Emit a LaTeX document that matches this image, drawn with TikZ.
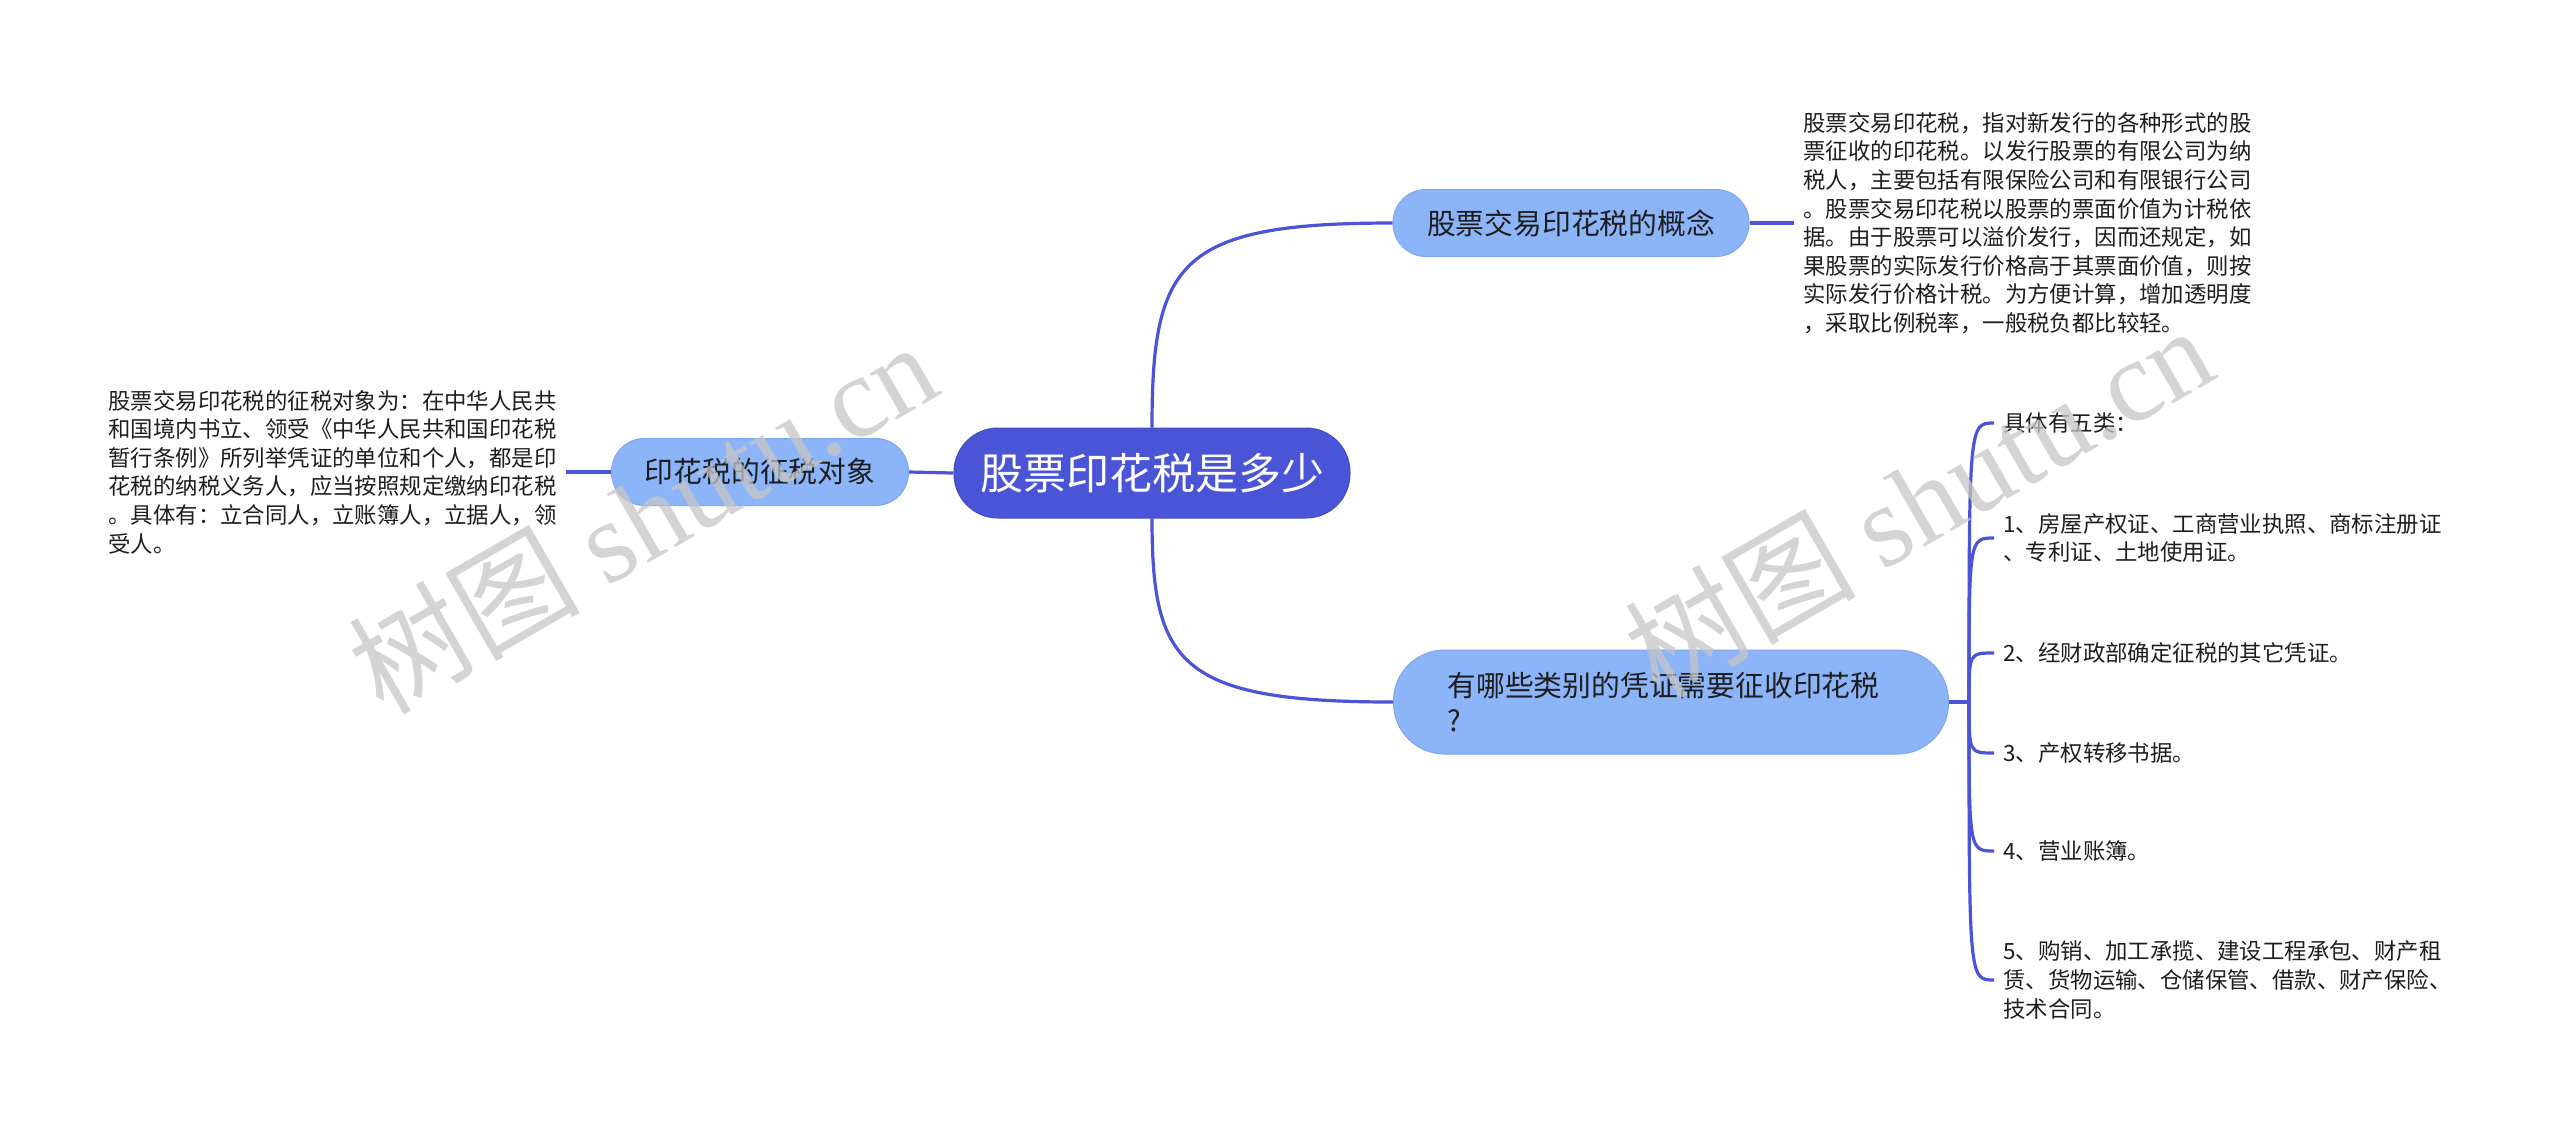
\documentclass[tikz,border=0pt]{standalone}
\usepackage{fontspec}
\setmainfont{Noto Sans CJK SC}
\newfontfamily\wmlat{Liberation Serif}
\definecolor{mainblue}{HTML}{4A54D6}
\definecolor{subblue}{HTML}{8CB4F8}
\definecolor{subedge}{HTML}{7EA6EE}
\definecolor{txt}{HTML}{1E1E1E}
\begin{document}
\begin{tikzpicture}[x=0.5pt,y=-0.5pt,
  conn/.style={draw=mainblue, line width=1.6pt},
  rootbox/.style={fill=mainblue, draw=mainblue!90!black, line width=0.5pt, rounded corners=22pt,
    minimum width=198pt, minimum height=45pt, inner sep=0pt, text=white,
    font=\fontsize{21.5pt}{26pt}\selectfont},
  subbox/.style={fill=subblue, draw=subedge, line width=0.5pt, rounded corners=16.5pt,
    minimum height=33.5pt, inner sep=0pt, text=txt,
    font=\fontsize{14.4pt}{17.5pt}\selectfont},
  leaf/.style={anchor=west, align=left, inner xsep=4.5pt, inner ysep=2pt, text=txt,
    font=\fontsize{11.2pt}{14.3pt}\selectfont},
  wm/.style={text=gray!45, opacity=0.75, rotate=30, inner sep=0pt,
    font=\fontsize{58pt}{60pt}\selectfont}
]
\useasboundingbox[fill=white] (0,0) rectangle (2560,1132);

% central and main nodes
\node[rootbox] (root) at (1152,473) {股票印花税是多少};
\node[subbox, minimum width=148.5pt] (lnode) at (760,472) {印花税的征税对象};
\node[subbox, minimum width=178pt] (tnode) at (1571,223) {股票交易印花税的概念};
\node[subbox, anchor=west, align=left, text width=223.5pt, inner xsep=27pt,
      minimum height=52pt, rounded corners=25.5pt] (bnode) at (1393,702)
      {有哪些类别的凭证需要征收印花税\\?};

% text blocks
\node[leaf] (ltext) at (99,472) {股票交易印花税的征税对象为：在中华人民共\\和国境内书立、领受《中华人民共和国印花税\\暂行条例》所列举凭证的单位和个人，都是印\\花税的纳税义务人，应当按照规定缴纳印花税\\。具体有：立合同人，立账簿人，立据人，领\\受人。};
\node[leaf] (ttext) at (1794,223) {股票交易印花税，指对新发行的各种形式的股\\票征收的印花税。以发行股票的有限公司为纳\\税人，主要包括有限保险公司和有限银行公司\\。股票交易印花税以股票的票面价值为计税依\\据。由于股票可以溢价发行，因而还规定，如\\果股票的实际发行价格高于其票面价值，则按\\实际发行价格计税。为方便计算，增加透明度\\，采取比例税率，一般税负都比较轻。};

% leaves
\node[leaf] (k0) at (1994,423) {具体有五类：};
\node[leaf] (k1) at (1994,538) {1、房屋产权证、工商营业执照、商标注册证\\、专利证、土地使用证。};
\node[leaf] (k2) at (1994,653) {2、经财政部确定征税的其它凭证。};
\node[leaf] (k3) at (1994,753) {3、产权转移书据。};
\node[leaf] (k4) at (1994,851) {4、营业账簿。};
\node[leaf] (k5) at (1994,980) {5、购销、加工承揽、建设工程承包、财产租\\赁、货物运输、仓储保管、借款、财产保险、\\技术合同。};

\coordinate (jn) at (1969,702);

% connectors
\draw[conn] (root.west) -- (lnode.east);
\draw[conn] (lnode.west) -- (ltext.east);
\draw[conn] (root.north) .. controls (1152,262) and (1178,223) .. (tnode.west);
\draw[conn] (root.south) .. controls (1152,663) and (1178,702) .. (bnode.west);
\draw[conn] (tnode.east) -- (ttext.west);
\draw[conn] (bnode.east) -- (jn);
\foreach \k in {k0,k1,k2,k3,k4,k5}{
  \draw[conn] (jn) .. controls (jn |- \k.west) .. (\k.west);
}

% watermarks
\node[wm] (wm1) at (642,516) {树图 {\wmlat shutu.cn}};
\node[wm] (wm2) at (1918,500) {树图 {\wmlat shutu.cn}};
\end{tikzpicture}
\end{document}
